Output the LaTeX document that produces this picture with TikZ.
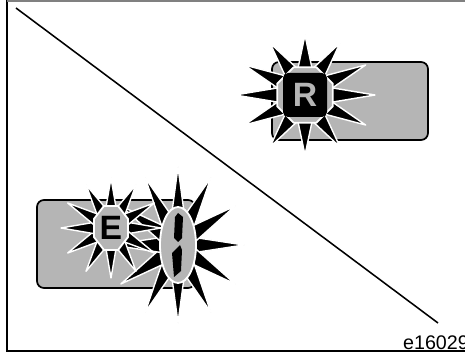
\documentclass[tikz,border=0pt]{standalone}
\usepackage{fontspec}
\setmainfont{Liberation Sans}
\usetikzlibrary{calc}
\definecolor{panelgray}{gray}{0.71}

% spikes of a flashing lamp: tips #1 x #2, bases #3 x #4, half width #5
\newcommand{\flashspikes}[5]{%
  \foreach \a in {0,30,...,330}
    \filldraw[spike]
      ({#3*cos(\a)-#5*sin(\a)},{#4*sin(\a)+#5*cos(\a)})
      -- ({#1*cos(\a)},{#2*sin(\a)})
      -- ({#3*cos(\a)+#5*sin(\a)},{#4*sin(\a)-#5*cos(\a)}) -- cycle;}

\begin{document}
\begin{tikzpicture}[x=0.5mm,y=-0.5mm,
    spike/.style={fill=black,draw=white,line width=2pt,line join=round},
    badge/.style={fill=panelgray,draw=white,line width=2.6pt},
    panel/.style={fill=panelgray,draw=black,line width=2.5pt,rounded corners=3.5mm},
    letter/.style={font=\fontsize{48}{48}\selectfont\bfseries,inner sep=0pt}]
  \useasboundingbox (0,0) rectangle (465,355);
  % frame
  \draw[line width=3.8pt] (7,-5) -- (7,351) -- (475,351);
  \draw[gray,line width=1.5pt] (7,1) -- (475,1);
  \coordinate (diagtop) at (16,8);
  \coordinate (diagbot) at (438,323);
  \draw[line width=2.2pt] (diagtop) -- (diagbot);
  \node[anchor=base west,inner sep=0pt,font=\fontsize{28}{28}\selectfont] (code) at (403,349) {e16029};

  % upper panel
  \draw[panel] (272,62) rectangle (428,140);
  \begin{scope}[shift={(305,95)}]
    \flashspikes{70}{60}{22}{22}{8}
    \filldraw[badge] (22.5:30) -- (67.5:30) -- (112.5:30) -- (157.5:30)
      -- (202.5:30) -- (247.5:30) -- (292.5:30) -- (337.5:30) -- cycle;
  \end{scope}
  \node[fill=black,rounded corners=2.5mm,minimum size=22mm,inner sep=0pt] (rsquare) at (305,95) {};
  \node[letter,text=panelgray] (rletter) at (rsquare) {R};

  % lower panel
  \draw[panel] (37,200) rectangle (195,288);
  \begin{scope}[shift={(178,245)}]
    \flashspikes{66}{78}{17}{22}{7.5}
  \end{scope}
  \begin{scope}[shift={(111,228)}]
    \flashspikes{50}{50}{15}{15}{6}
    \filldraw[badge] (22.5:18.4 and 23.8) -- (67.5:18.4 and 23.8) -- (112.5:18.4 and 23.8)
      -- (157.5:18.4 and 23.8) -- (202.5:18.4 and 23.8) -- (247.5:18.4 and 23.8)
      -- (292.5:18.4 and 23.8) -- (337.5:18.4 and 23.8) -- cycle;
  \end{scope}
  \node[letter] (eletter) at (111,228) {E};
  \filldraw[badge] (178,245) ellipse (18 and 38);
  % segments of the digit
  \fill (178,213) -- (183,217) -- (182,238) -- (178,242) -- (174,238) -- (175,217) -- cycle;
  \fill (176,249) -- (180,245) -- (182,250) -- (181,271) -- (174,277) -- (172,253) -- cycle;
\end{tikzpicture}
\end{document}
